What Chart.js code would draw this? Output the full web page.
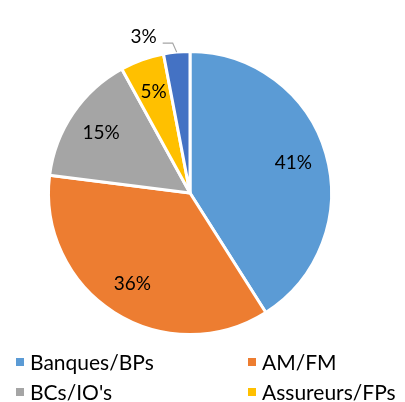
<!DOCTYPE html>
<html><head><meta charset="utf-8">
<script src="https://cdn.jsdelivr.net/npm/chart.js@4/dist/chart.umd.min.js"></script>
<style>
html,body{margin:0;padding:0;background:#fff;}
#wrap{position:relative;width:405px;height:402px;}
#c{position:absolute;left:0;top:0;}
.lg{position:absolute;font-family:Lato,"Liberation Sans",sans-serif;font-size:21px;color:#000;line-height:22px;white-space:nowrap;}
.sw{position:absolute;width:8px;height:8px;}
</style></head>
<body><div id="wrap"><canvas id="c" width="405" height="402"></canvas></div>
<script>
const categories = ["Banques/BPs", "AM/FM", "BCs/IO's", "Assureurs/FPs", "Autres"];
const values = [41, 36, 15, 5, 3];
const colors = ["#5B9BD5", "#ED7D31", "#A5A5A5", "#FFC000", "#4472C4"];
const legendShown = [true, true, true, true, false];

const labelPlugin = {
  id: 'pctLabels',
  afterDatasetsDraw(chart) {
    const ctx = chart.ctx;
    const meta = chart.getDatasetMeta(0);
    const total = values.reduce((a, b) => a + b, 0);
    ctx.save();
    ctx.font = '19px Lato, "Liberation Sans", sans-serif';
    ctx.fillStyle = '#000';
    ctx.textAlign = 'center';
    ctx.textBaseline = 'middle';
    meta.data.forEach((arc, i) => {
      const p = arc.getProps(['x', 'y', 'startAngle', 'endAngle', 'outerRadius'], true);
      const mid = (p.startAngle + p.endAngle) / 2;
      const txt = Math.round(values[i] / total * 100) + '%';
      if (values[i] / total < 0.04) {
        const ex = p.x + Math.cos(mid) * p.outerRadius;
        const ey = p.y + Math.sin(mid) * p.outerRadius;
        ctx.strokeStyle = '#A5A5A5';
        ctx.lineWidth = 1.2;
        ctx.beginPath();
        ctx.moveTo(ex, ey);
        ctx.lineTo(ex - 4, ey - 9);
        ctx.lineTo(ex - 14, ey - 9);
        ctx.stroke();
        ctx.fillText(txt, ex - 33, ey - 15);
      } else {
        const r = p.outerRadius * 0.76;
        ctx.fillText(txt, p.x + Math.cos(mid) * r, p.y + Math.sin(mid) * r);
      }
    });
    ctx.restore();
  }
};

new Chart(document.getElementById('c'), {
  type: 'pie',
  data: {
    labels: categories,
    datasets: [{ data: values, backgroundColor: colors, borderColor: '#fff', borderWidth: 3 }]
  },
  options: {
    responsive: false,
    animation: false,
    layout: { padding: { top: 49, bottom: 65, left: 47, right: 72 } },
    plugins: { legend: { display: false }, tooltip: { enabled: false } }
  },
  plugins: [labelPlugin]
});

// HTML legend (2 columns)
const wrap = document.getElementById('wrap');
const pos = [[16, 351], [248, 351], [16, 381], [248, 381]];
let k = 0;
categories.forEach((name, i) => {
  if (!legendShown[i]) return;
  const [x, y] = pos[k++];
  const s = document.createElement('div');
  s.className = 'sw'; s.style.left = x + 'px'; s.style.top = (y + 7) + 'px'; s.style.background = colors[i];
  wrap.appendChild(s);
  const t = document.createElement('div');
  t.className = 'lg'; t.style.left = (x + 14) + 'px'; t.style.top = y + 'px'; t.textContent = name;
  wrap.appendChild(t);
});
</script></body></html>
